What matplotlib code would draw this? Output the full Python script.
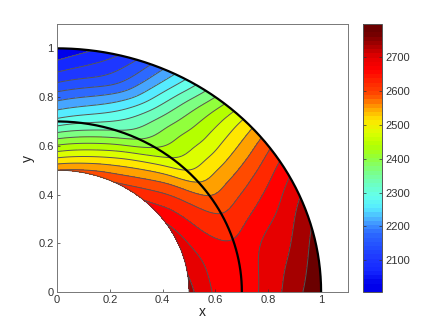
import numpy as np
import matplotlib
matplotlib.use("Agg")
import matplotlib.pyplot as plt
from matplotlib.cm import ScalarMappable
from matplotlib.colors import LinearSegmentedColormap, Normalize
from matplotlib.tri import Triangulation, CubicTriInterpolator

plt.rcParams['font.family'] = ['Liberation Sans', 'DejaVu Sans']

# Values at polar nodes
r_nodes = [0.5, 0.6, 0.7, 0.8, 0.9, 1.0]
theta_nodes = [0, 15, 25, 35, 45, 55, 65, 75, 90]
temp_0 = [2735, 2680, 2667, 2701, 2746, 2799]
temp_15 = [2714, 2671, 2657, 2688, 2714, 2765]
temp_25 = [2701, 2648, 2621, 2640, 2671, 2712]
temp_35 = [2685, 2625, 2569, 2576, 2595, 2625]
temp_45 = [2657, 2591, 2497, 2486, 2493, 2500]
temp_55 = [2633, 2542, 2440, 2414, 2391, 2356]
temp_65 = [2608, 2501, 2372, 2319, 2263, 2210]
temp_75 = [2593, 2463, 2331, 2233, 2141, 2089]
temp_90 = [2572, 2425, 2284, 2179, 2083, 2006]

t_min = 2006
t_max = 2799
cbar_ticks = [2100, 2200, 2300, 2400, 2500, 2600, 2700]
axis_ticks = [0, 0.2, 0.4, 0.6, 0.8, 1]
axis_tick_labels = ['0', '0.2', '0.4', '0.6', '0.8', '1']
arc_radii = [0.7, 1.0]

# Colour of each band between contour levels, bottom to top
band_colors = ['#0000eb', '#1428ff', '#1e37ff', '#2350ff', '#2d69ff', '#46a5ff', '#55ebff',
               '#64ffeb', '#6effbe', '#7dff82', '#91ff3c', '#b4ff00', '#dcff00', '#ffe600',
               '#ffa000', '#ff4b00', '#ff2800', '#ff0000', '#e60000', '#a50000', '#6b0000']


def smooth(z, width, axis):
    # Triangle filter along one axis, odd reflection keeps the edge values
    z = np.moveaxis(z, axis, 0)
    top = 2 * z[0] - z[width - 1:0:-1]
    bottom = 2 * z[-1] - z[-2:-width - 1:-1]
    padded = np.concatenate([top, z, bottom])
    kernel = np.convolve(np.ones(width), np.ones(width))
    kernel = kernel / kernel.sum()
    out = np.apply_along_axis(lambda c: np.convolve(c, kernel, mode='valid'), 0, padded)
    return np.moveaxis(out, 0, axis)


temp = np.array([temp_0, temp_15, temp_25, temp_35, temp_45, temp_55, temp_65, temp_75, temp_90], dtype=float)

# Interpolate the table in (r, theta) space
rr, tt = np.meshgrid(r_nodes, theta_nodes)
tri = Triangulation(rr.ravel(), tt.ravel() / 100.0)
interp = CubicTriInterpolator(tri, temp.ravel(), kind='geom')
r_fine = np.linspace(0.5, 1.0, 201)
theta_fine = np.linspace(0, 90, 361)
rp, tp = np.meshgrid(r_fine, theta_fine)
zf = np.ma.filled(interp(np.clip(rp, 0.5001, 0.9999), np.clip(tp, 0.01, 89.99) / 100.0), np.nan)
zf = smooth(zf, 32, 0)
zf = smooth(zf, 16, 1)
x = rp * np.cos(np.radians(tp))
y = rp * np.sin(np.radians(tp))

levels = np.linspace(t_min, t_max, len(band_colors) + 1)
extended = levels.copy()
extended[0] = t_min - 80
extended[-1] = t_max + 80

fig = plt.figure(figsize=(4.36, 3.28), dpi=100)
ax = fig.add_axes([57 / 436, 36 / 328, 290.5 / 436, 268 / 328])
ax.contourf(x, y, zf, levels=extended, colors=band_colors)
ax.contour(x, y, zf, levels=levels[1:-1], colors='#555555', linewidths=0.7)

# Inner edge is thin, the r=0.7 and r=1 arcs are heavy
angle = np.radians(np.linspace(0, 90, 200))
for radius in arc_radii:
    ax.plot(radius * np.cos(angle), radius * np.sin(angle), color='black', lw=1.6, solid_capstyle='butt')
ax.plot(0.5 * np.cos(angle), 0.5 * np.sin(angle), color='#444444', lw=0.6)

ax.set_xlim(0, 1.1)
ax.set_ylim(0, 1.1)
ax.set_xticks(axis_ticks)
ax.set_yticks(axis_ticks)
ax.set_xticklabels(axis_tick_labels)
ax.set_yticklabels(axis_tick_labels)
ax.tick_params(direction='in', length=2.5, width=0.5, labelsize=8, pad=2.5, colors='#333333')
ax.set_xlabel('x', fontsize=10, labelpad=0, color='#222222')
ax.set_ylabel('y', fontsize=10, labelpad=2, color='#222222')
for spine in ax.spines.values():
    spine.set_linewidth(0.7)
    spine.set_color('#777777')

# Colorbar steps through 64 shades
mids = (levels[:-1] + levels[1:]) / 2
nodes = [(0.0, band_colors[0])]
nodes += [((m - t_min) / (t_max - t_min), c) for m, c in zip(mids, band_colors)]
nodes += [(1.0, band_colors[-1])]
cmap = LinearSegmentedColormap.from_list('bar', nodes, N=64)
cax = fig.add_axes([362.7 / 436, 36 / 328, 19 / 436, 268 / 328])
cb = fig.colorbar(ScalarMappable(norm=Normalize(t_min, t_max), cmap=cmap), cax=cax)
cb.set_ticks(cbar_ticks)
cb.ax.tick_params(direction='in', length=2.5, width=0.5, labelsize=8, pad=2.5, colors='#333333',
                  left=True, right=True)
cb.outline.set_linewidth(0.7)
cb.outline.set_edgecolor('#555555')

fig.savefig('out.png', dpi=100)
